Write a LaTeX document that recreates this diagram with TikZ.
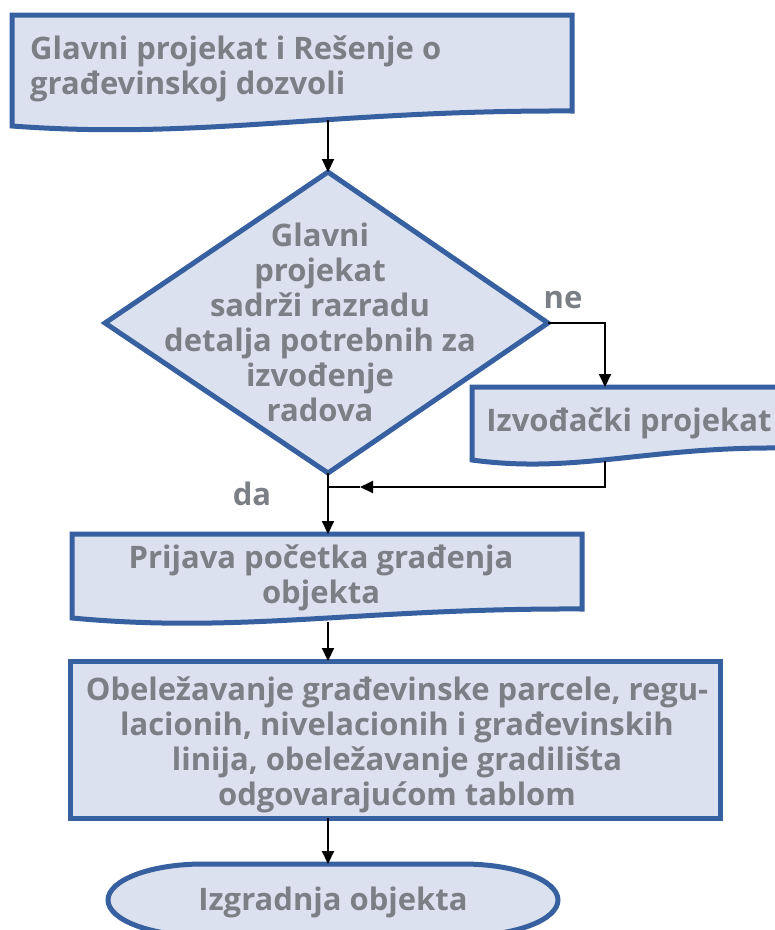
\documentclass[tikz,border=0pt]{standalone}
\usepackage{fontspec}
\setmainfont{Open Sans}
\usetikzlibrary{arrows.meta}
\definecolor{boxblue}{RGB}{55,96,160}
\definecolor{boxfill}{RGB}{219,225,238}
\definecolor{txtgray}{RGB}{123,127,134}
\tikzset{
  blk/.style={draw=boxblue, fill=boxfill, line width=5pt, line join=miter},
  txt/.style={text=txtgray, font=\bfseries\fontsize{31}{35}\selectfont, inner sep=0pt},
  wire/.style={line width=2pt},
  arrow/.style={wire, -{Triangle[length=13pt,width=12pt]}}
}

\begin{document}
\begin{tikzpicture}[x=1pt, y=1pt]
		\useasboundingbox (0,0) rectangle (775,-930);
		\clip (0,0) rectangle (775,-930);
		% start document
		\draw[blk] (12,-15) -- (572,-15) -- (572,-111)
			.. controls (330,-110) and (200,-140) .. (12,-126) -- cycle;
		\node[txt, align=left, anchor=west] (start) at (30,-69)
			{Glavni projekat i Rešenje o\\građevinskoj dozvoli};
		% decision
		\coordinate (dT) at (328,-172);
		\coordinate (dL) at (105,-323);
		\coordinate (dR) at (548,-323);
		\coordinate (dB) at (328,-473);
		\draw[blk] (dT) -- (dR) -- (dB) -- (dL) -- cycle;
		\node[txt, align=center] (cond) at (320,-322)
			{Glavni\\projekat\\sadrži razradu\\detalja potrebnih za\\izvođenje\\radova};
		% side document
		\draw[blk] (472,-387) -- (780,-387) -- (780,-448)
			.. controls (645,-447) and (575,-474) .. (472,-460) -- cycle;
		\node[txt] (izv) at (629,-423) {Izvođački projekat};
		% report
		\draw[blk] (72,-534) -- (582,-534) -- (582,-609)
			.. controls (360,-608) and (243,-634) .. (72,-618) -- cycle;
		\node[txt, align=center] (prij) at (321,-578)
			{Prijava početka građenja\\objekta};
		% marking
		\draw[blk] (70,-661) rectangle (720,-818);
		\node[txt, align=center] (obel) at (397,-745)
			{Obeležavanje građevinske parcele, regu-\\lacionih, nivelacionih i građevinskih\\linija, obeležavanje gradilišta\\odgovarajućom tablom};
		% end terminal
		\draw[blk] (203,-864) -- (463,-864)
			arc[start angle=90, end angle=-90, x radius=95, y radius=36]
			-- (203,-936)
			arc[start angle=-90, end angle=-270, x radius=95, y radius=36] -- cycle;
		\node[txt] (kraj) at (333,-902) {Izgradnja objekta};
		% connectors
		\coordinate (sB) at (328,-120);
		\coordinate (iT) at (605,-387);
		\coordinate (iB) at (605,-461);
		\coordinate (join) at (328,-487);
		\coordinate (tipL) at (360,-487);
		\coordinate (pT) at (328,-534);
		\coordinate (pB) at (328,-622);
		\coordinate (oT) at (328,-661);
		\coordinate (oB) at (328,-818);
		\coordinate (kT) at (328,-864);
		\draw[arrow] (sB) -- (dT);
		\draw[arrow] (dR) -| (iT);
		\draw[arrow] (iB) |- (tipL);
		\draw[wire] (tipL) -- (join);
		\draw[arrow] (dB) -- (pT);
		\draw[arrow] (pB) -- (oT);
		\draw[arrow] (oB) -- (kT);
		\node[txt, anchor=base] (ne) at (563,-308) {ne};
		\node[txt, anchor=base] (da) at (252,-505) {da};
	\end{tikzpicture}
\end{document}
